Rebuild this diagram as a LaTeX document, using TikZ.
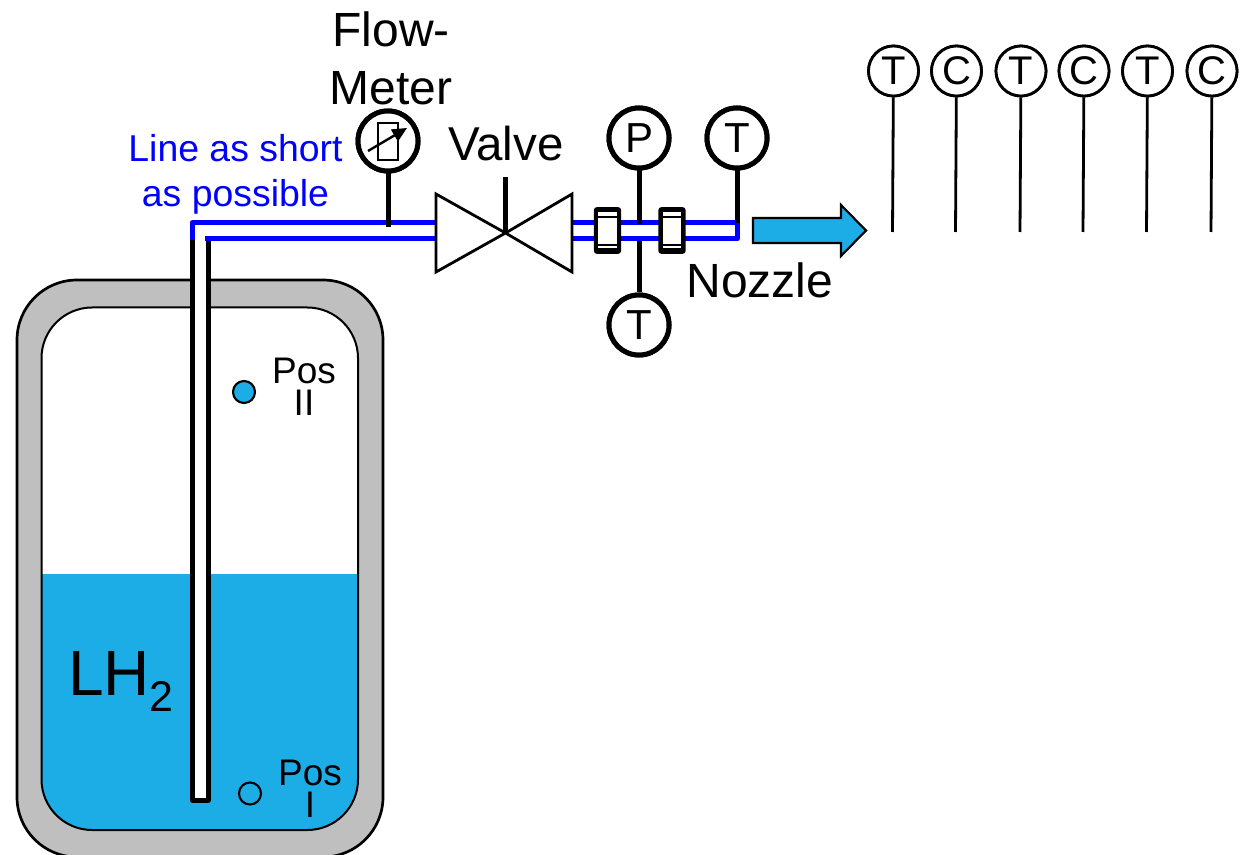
\documentclass[tikz,border=0pt]{standalone}
\usepackage{fontspec}
\setmainfont{Liberation Sans}
\usetikzlibrary{arrows.meta}
\definecolor{liquid}{HTML}{1DADE6}
\definecolor{wall}{HTML}{BFBFBF}
\definecolor{pipeblue}{HTML}{0000FF}
\newcommand{\pxfont}[1]{\pgfmathsetmacro{\fpt}{#1*0.75}\fontsize{\fpt pt}{\fpt pt}\selectfont}
\newcommand{\dl}[1]{\raisebox{-1.2pt}{#1}}
\tikzset{
  lbl/.style={inner sep=0pt,anchor=base,font=\pxfont{#1}},
  bigdial/.style={circle,draw=black,line width=3.75pt,fill=white,minimum size=45pt,inner sep=0pt,font=\pxfont{42}},
  smalldial/.style={circle,draw=black,line width=2.1pt,fill=white,minimum size=37.5pt,inner sep=0pt,font=\pxfont{40}},
  stem/.style={draw=black,line width=3.75pt},
  thinstem/.style={draw=black,line width=2.1pt},
  pipe/.style={draw=pipeblue,line width=3.75pt},
  tube/.style={draw=black,line width=3.75pt},
  fitting/.style={fill=black,rounded corners=2.5pt,minimum width=20.6pt,minimum height=35.2pt,inner sep=0pt},
  fittinginner/.style={fill=white,minimum width=14.2pt,minimum height=27pt,inner sep=0pt},
  band/.style={draw=black,line width=1.1pt},
  valveside/.style={draw=black,line width=2.1pt,fill=white,line join=miter},
}
\begin{document}
\begin{tikzpicture}[x=0.75pt,y=-0.75pt]
\useasboundingbox (0,0) rectangle (1248,855);
\begin{scope}
\clip (0,0) rectangle (1248,855);
% tank
\draw[draw=black,line width=2pt,fill=wall,rounded corners=45pt] (17,280) rectangle (383,857);
\begin{scope}
\clip[rounded corners=38pt] (41.5,307.5) rectangle (358,830);
\fill[white] (30,300) rectangle (370,574);
\fill[liquid] (30,574) rectangle (370,840);
\end{scope}
\draw[draw=black,line width=1.5pt,rounded corners=38pt] (41.5,307.5) rectangle (358,830);
\end{scope}
% dip tube
\fill[white] (192,236) rectangle (208,800);
\coordinate (tubeL) at (192,240);
\coordinate (tubeR) at (208,240);
\coordinate (tubeBL) at (192,800);
\coordinate (tubeBR) at (208,800);
\draw[tube,line join=round] (tubeL) -- (tubeBL) -- (tubeBR) -- (tubeR);
% pipe
\coordinate (pipeTL) at (192,223);
\coordinate (pipeEndT) at (737,223);
\coordinate (pipeEndB) at (737,239);
\coordinate (pipeBL) at (205,239);
\coordinate (valveInT) at (438,223);
\coordinate (valveInB) at (438,239);
\coordinate (valveOutT) at (570,223);
\coordinate (valveOutB) at (570,239);
\draw[pipe,line join=round] (tubeL) -- (pipeTL) -- (valveInT);
\draw[pipe] (pipeBL) -- (valveInB);
\draw[pipe,line join=round] (valveOutT) -- (pipeEndT) -- (pipeEndB) -- (valveOutB);
% fittings
\node[fitting] (fitA) at (607.5,230.5) {};
\node[fittinginner] at (607.5,230.5) {};
\node[fitting] (fitB) at (672,230.5) {};
\node[fittinginner] at (672,230.5) {};
\foreach \c in {607.5,672}{
  \draw[band] (\c-10,217) -- (\c+10,217);
  \draw[band] (\c-10,245) -- (\c+10,245);
}
% valve
\coordinate (valveC) at (505.5,233);
\coordinate (valveTop) at (505.5,177);
\draw[valveside] (436,194) -- (436,272) -- (valveC) -- cycle;
\draw[valveside] (572,194) -- (572,272) -- (valveC) -- cycle;
\draw[stem] (valveTop) -- (valveC);
% instruments
\node[bigdial] (flow) at (388,141) {};
\node[bigdial] (P) at (639,138) {\dl{P}};
\node[bigdial] (Tr) at (737,138) {\dl{T}};
\node[bigdial] (Tb) at (639,325) {\dl{T}};
\coordinate (flowFoot) at (388,227);
\coordinate (pFoot) at (639,224);
\coordinate (tbFoot) at (639,241);
\draw[stem] (flow) -- (flowFoot);
\draw[stem] (P) -- (pFoot);
\draw[stem] (Tr) -- (pipeEndT);
\draw[stem] (Tb) -- (tbFoot);
\node[bigdial] at (388,141) {};
\node[bigdial] at (639,138) {\dl{P}};
\node[bigdial] at (737,138) {\dl{T}};
\node[bigdial] at (639,325) {\dl{T}};
\draw[draw=black,line width=2pt] (378,123) rectangle (398,160);
\draw[draw=black,line width=1.8pt,-{Triangle[length=11pt,width=10pt]}] (368,151) -- (407,128);
% outlet arrow
\draw[draw=black,line width=1.6pt,fill=liquid,line join=miter] (753,218) -- (841,218) -- (841,205) -- (866,230.5) -- (841,256) -- (841,243) -- (753,243) -- cycle;
% sensors
\foreach \n/\t/\x/\xb in {a/T/893.5/892.5,b/C/956.5/955.5,c/T/1021/1020,d/C/1084/1083,e/T/1147.5/1146.5,f/C/1212/1211}{
  \node[smalldial] (s\n) at (\x,71) {\dl{\t}};
  \coordinate (f\n) at (\xb,232);
  \draw[thinstem] (s\n) -- (f\n);
  \node[smalldial] at (\x,71) {\dl{\t}};
}
% probes
\node[circle,draw=black,line width=1.6pt,fill=liquid,minimum size=16.5pt,inner sep=0pt] (pos2) at (244,392) {};
\node[circle,draw=black,line width=1.6pt,minimum size=16.5pt,inner sep=0pt] (pos1) at (250,793.5) {};
% labels
\node[lbl=48] (t1) at (391,47) {Flow-};
\node[lbl=48] (t2) at (391,105) {Meter};
\node[lbl=47.5] (t3) at (506,161) {Valve};
\node[lbl=48] (t4) at (760,298) {Nozzle};
\node[lbl=37.4,text=pipeblue] (t5) at (235.5,162) {Line as short};
\node[lbl=37.4,text=pipeblue] (t6) at (235.5,207) {as possible};
\node[lbl=37] (t7) at (304,383) {Pos};
\node[lbl=37] (t8) at (304,415) {II};
\node[lbl=37] (t9) at (310,785) {Pos};
\node[lbl=37] (t10) at (310,817) {I};
\node[inner sep=0pt,anchor=base west,font=\pxfont{64}] (t11) at (68,695) {LH};
\node[inner sep=0pt,anchor=base west,font=\pxfont{43}] (t12) at (149,711) {2};
\end{tikzpicture}
\end{document}
